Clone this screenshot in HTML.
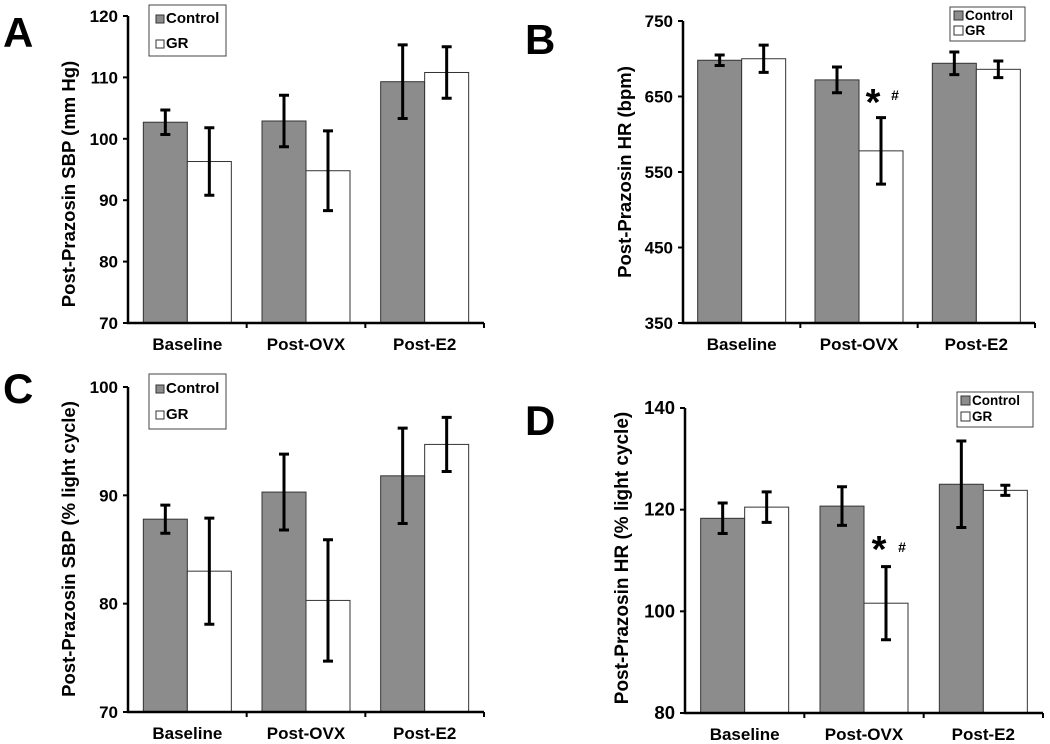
<!DOCTYPE html>
<html><head><meta charset="utf-8"><style>
body{margin:0;background:#fff;}
svg{display:block;font-family:"Liberation Sans",Arial,sans-serif;}
</style></head><body>
<svg id="chart" width="1050" height="744" viewBox="0 0 1050 744" xmlns="http://www.w3.org/2000/svg"></svg>
<script>
const categories = ["Baseline","Post-OVX","Post-E2"];
const aControl = [102.7,102.9,109.3], aControlErr=[2.0,4.2,6.0];
const aGR = [96.3,94.8,110.8], aGRErr=[5.5,6.5,4.2];
const aTicks = [70,80,90,100,110,120];
const bControl = [698,672,694], bControlErr=[7,17,15];
const bGR = [700,578,686], bGRErr=[18,44,11];
const bTicks = [350,450,550,650,750];
const cControl = [87.8,90.3,91.8], cControlErr=[1.3,3.5,4.4];
const cGR = [83.0,80.3,94.7], cGRErr=[4.9,5.6,2.5];
const cTicks = [70,80,90,100];
const dControl = [118.3,120.7,125.0], dControlErr=[3.0,3.8,8.5];
const dGR = [120.5,101.6,123.8], dGRErr=[3.0,7.2,1.0];
const dTicks = [80,100,120,140];

const svg=document.getElementById('chart');
const NS='http://www.w3.org/2000/svg';
function mk(tag,attrs,parent,text){const e=document.createElementNS(NS,tag);for(const k in attrs)e.setAttribute(k,attrs[k]);if(text!==undefined)e.textContent=text;(parent||svg).appendChild(e);return e;}

function panel(cfg){
  const g=mk('g',{});
  
  
  const x0=cfg.x0,x1=cfg.x1,yT=cfg.yT,yB=cfg.yB,min=cfg.ticks[0],max=cfg.ticks[cfg.ticks.length-1];
  const y=v=>yB-(v-min)/(max-min)*(yB-yT);
  const gw=(x1-x0)/3, bw=44;
  const bx=(i,s)=>x0+gw*i+gw/2-bw+s*bw;
  for(let i=0;i<3;i++){
    [[cfg.ctrl,cfg.ctrlE,'#8c8c8c',0,'control'],[cfg.gr,cfg.grE,'#ffffff',1,'gr']].forEach(([vals,errs,fill,s,nm])=>{
      const xx=bx(i,s);
      const r=mk('rect',{x:xx,y:y(vals[i]),width:bw,height:yB-y(vals[i]),fill:fill,stroke:'#333','stroke-width':1},g);
      
      
      const cx=xx+bw/2;
      const e=mk('path',{d:`M${cx},${y(vals[i]+errs[i])}V${y(vals[i]-errs[i])}M${cx-5},${y(vals[i]+errs[i])}h10M${cx-5},${y(vals[i]-errs[i])}h10`,stroke:'#000','stroke-width':3,fill:'none'},g);
      
      
    });
    const t=mk('text',{x:x0+gw*i+gw/2,y:yB+27,'text-anchor':'middle','font-size':17,'font-weight':'bold'},g,categories[i]);
    
    
  }
  const ax=mk('path',{d:`M${x0},${yT}V${yB}H${x1}`,stroke:'#000','stroke-width':2.5,fill:'none'},g);
  
  
  for(let i=1;i<=3;i++) mk('line',{x1:x0+gw*i,x2:x0+gw*i,y1:yB,y2:yB+5,stroke:'#000','stroke-width':2},g);
  cfg.ticks.forEach(v=>{
    mk('line',{x1:x0-5,x2:x0,y1:y(v),y2:y(v),stroke:'#000','stroke-width':2},g);
    const t=mk('text',{x:x0-10,y:y(v)+6,'text-anchor':'end','font-size':cfg.tfs,'font-weight':'bold'},g,v);
    
    
  });
  const tt=mk('text',{transform:`translate(${cfg.tx},${cfg.ty}) rotate(-90)`,'text-anchor':'middle','font-size':cfg.tts,'font-weight':'bold'},g,cfg.title);
  
  
  const L=mk('text',{x:cfg.lx,y:cfg.ly,'font-size':42,'font-weight':'bold'},g,cfg.id);
  
  
  const lg=mk('g',{},g);
  
  
  const s=cfg.lsz;
  mk('rect',{x:cfg.bx,y:cfg.by,width:cfg.bw,height:cfg.bh,fill:'#fff',stroke:'#444'},lg);
  [['Control','#8c8c8c',0],['GR','#ffffff',1]].forEach(([n,f,k])=>{
    const yy=cfg.legY+k*cfg.legDy;
    mk('rect',{x:cfg.legX,y:yy-s,width:s,height:s,fill:f,stroke:'#333'},lg);
    mk('text',{x:cfg.legX+s+2,y:yy,'font-size':cfg.lfs,'font-weight':'bold'},lg,n);
  });
  if(cfg.star){
    const a=mk('text',{x:cfg.star[0],y:cfg.star[1]+20,'font-size':38,'font-weight':'bold','text-anchor':'middle'},g,'*');
    
    
    const h=mk('text',{x:cfg.star[2],y:cfg.star[3]+5,'font-size':14,'font-weight':'bold','text-anchor':'middle'},g,'#');
    
    
  }
}
panel({id:'A',x0:128,x1:484,yT:16,yB:323,ticks:aTicks,ctrl:aControl,ctrlE:aControlErr,gr:aGR,grE:aGRErr,title:'Post-Prazosin  SBP (mm Hg)',tx:75,ty:184,tts:18.5,tfs:17,lx:3,ly:47,bx:149,by:5,bw:77,bh:51,legX:156,legY:23,legDy:25,lsz:8,lfs:15});
panel({id:'B',x0:683,x1:1035,yT:21,yB:323,ticks:bTicks,ctrl:bControl,ctrlE:bControlErr,gr:bGR,grE:bGRErr,title:'Post-Prazosin  HR (bpm)',tx:631,ty:172,tts:18.5,tfs:17,lx:525,ly:54,bx:950,by:7,bw:75,bh:34,legX:954,legY:20,legDy:15,lsz:9,lfs:13.5,star:[873,95,895,95]});
panel({id:'C',x0:128,x1:484,yT:387,yB:712,ticks:cTicks,ctrl:cControl,ctrlE:cControlErr,gr:cGR,grE:cGRErr,title:'Post-Prazosin  SBP (% light cycle)',tx:75,ty:549,tts:18.5,tfs:17,lx:3,ly:403,bx:149,by:374,bw:77,bh:55,legX:156,legY:393,legDy:26,lsz:8,lfs:15});
panel({id:'D',x0:685,x1:1043,yT:408,yB:713,ticks:dTicks,ctrl:dControl,ctrlE:dControlErr,gr:dGR,grE:dGRErr,title:'Post-Prazosin  HR (% light cycle)',tx:628,ty:558,tts:19,tfs:18.5,lx:525,ly:435,bx:957,by:392,bw:76,bh:35,legX:961,legY:405,legDy:16,lsz:9,lfs:13.5,star:[879,542,902,547]});
</script>
</body></html>
